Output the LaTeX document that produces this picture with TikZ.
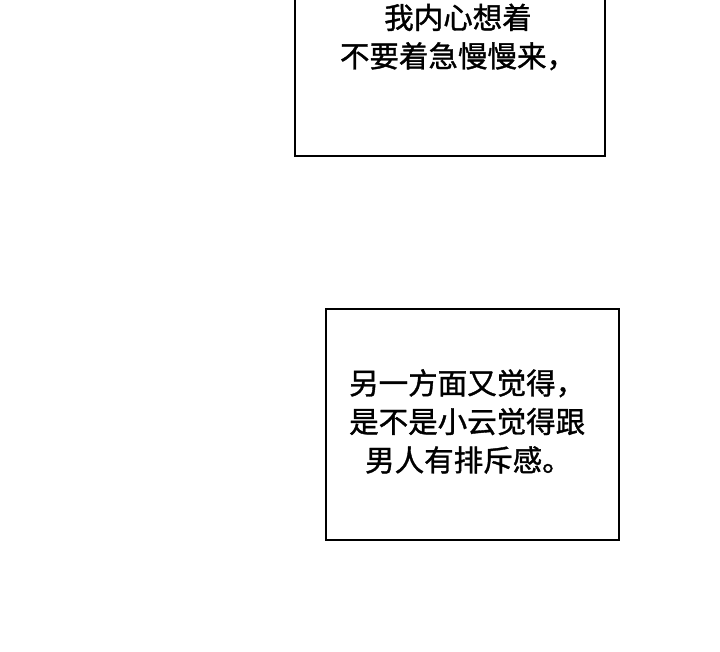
\documentclass[tikz,border=0pt]{standalone}
\usepackage{fontspec}
\newfontfamily\cjk[FakeBold=1.2]{Noto Sans CJK SC}
\begin{document}
\begin{tikzpicture}[x=1pt,y=-1pt,
  panel/.style={draw=black,line width=2pt,fill=white},
  txt/.style={font=\cjk\fontsize{29.5}{38.5}\selectfont,align=left,inner sep=0pt}]
\useasboundingbox (0,0) rectangle (720,652);
\fill[white] (0,0) rectangle (720,652);
\begin{scope}
\clip (0,0) rectangle (720,652);
\draw[panel] (295,-10) rectangle (605,156);
\end{scope}
\node[txt,align=center] (t1) at (458,37) {我内心想着\\不要着急慢慢来，};
\draw[panel] (326,309) rectangle (619,540);
\node[txt,anchor=north west] (t2) at (349,369) {另一方面又觉得，\\是不是小云觉得跟\\\hspace*{16pt}男人有排斥感。};
\end{tikzpicture}
\end{document}
